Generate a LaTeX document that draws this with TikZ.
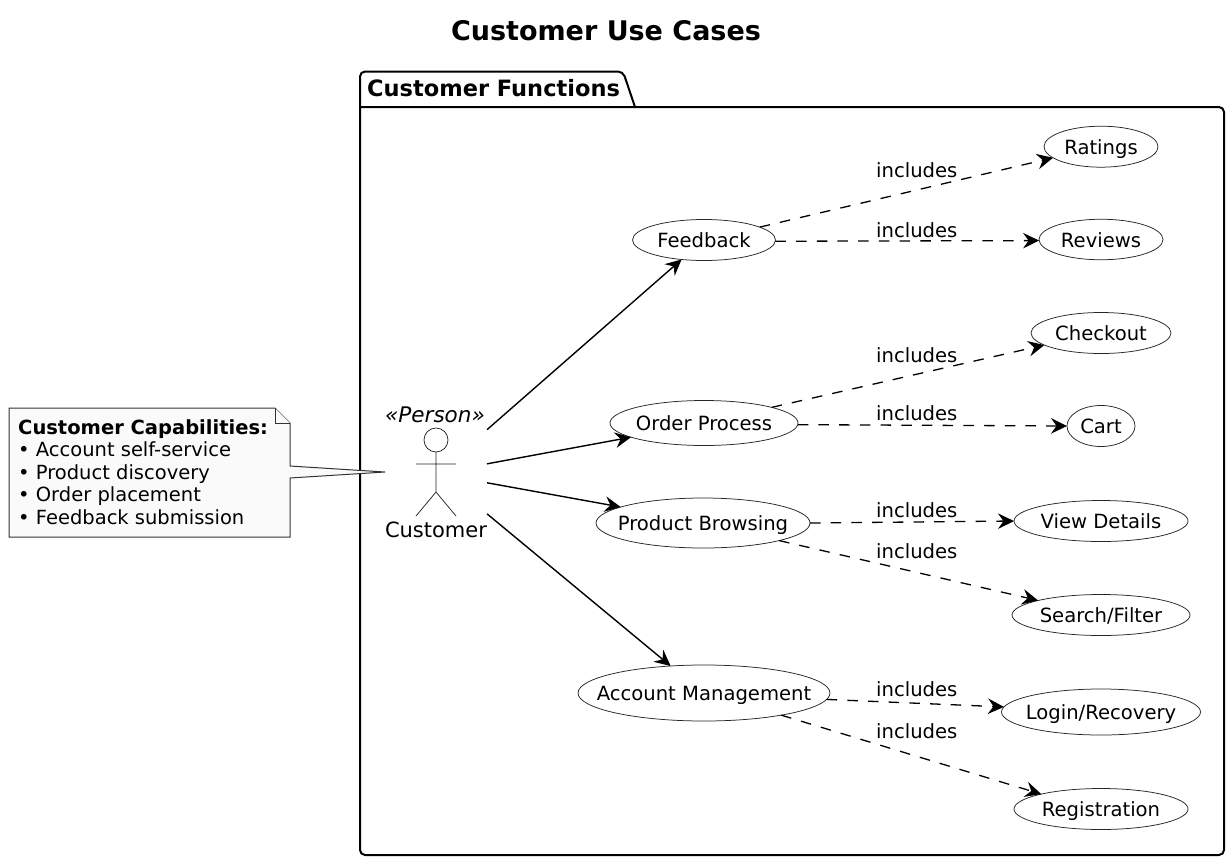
\documentclass[tikz,border=0pt]{standalone}
\usepackage{fontspec}
\setmainfont{DejaVu Sans}
\usetikzlibrary{arrows.meta,shapes.geometric}
\newcommand{\uctext}[1]{\makebox[0pt][c]{#1}}
\tikzset{
  x=1pt,y=-1pt,
  body/.style={font=\fontsize{19.6}{24}\selectfont},
  uc/.style={draw=black!85,ellipse,line width=0.75pt,inner sep=0pt,outer sep=0pt,fill=white,body,text height=19pt,text depth=4pt,anchor=center},
  headtip/.style={-{Stealth[length=16pt,width=15.5pt,inset=5.5pt]}},
  inc/.style={draw,line width=1.3pt,dash pattern=on 10.5pt off 10.2pt,headtip},
  assoc/.style={draw,line width=1.4pt,headtip},
  inclabel/.style={body,anchor=west,inner sep=0pt},
  actorline/.style={draw=black!85,line width=0.75pt},
  pkg/.style={line width=2pt,line join=round},
  notebox/.style={draw=black!80,line width=1pt,fill=black!2},
}
\begin{document}
\begin{tikzpicture}
\useasboundingbox (0,0) rectangle (1232,863);
\node[font=\bfseries\fontsize{27}{30}\selectfont] (title) at (606,31) {Customer Use Cases};
% package
\draw[pkg,rounded corners=5pt] (360,107) -- (360,71.5) -- (623,71.5) -- (635,107);
\draw[pkg,rounded corners=5pt] (360,107) -- (360,855) -- (1224,855) -- (1224,107) -- (635,107) -- (360,107);
\node[font=\bfseries\fontsize{22.5}{26}\selectfont,anchor=west,inner sep=0pt] (pkgname) at (367,88) {Customer Functions};
% use cases
\node[uc,minimum width=143pt,minimum height=41pt] (feedback) at (704,240) {\uctext{Feedback}};
\node[uc,minimum width=188pt,minimum height=45pt] (order) at (704,423) {\uctext{Order Process}};
\node[uc,minimum width=214pt,minimum height=50pt] (browse) at (703,523) {\uctext{Product Browsing}};
\node[uc,minimum width=252pt,minimum height=56pt] (account) at (704,693) {\uctext{Account Management}};
\node[uc,minimum width=114pt,minimum height=41pt] (ratings) at (1101,146.7) {\uctext{Ratings}};
\node[uc,minimum width=124pt,minimum height=40.5pt] (reviews) at (1101,239.5) {\uctext{Reviews}};
\node[uc,minimum width=140pt,minimum height=41pt] (checkout) at (1101,333) {\uctext{Checkout}};
\node[uc,minimum width=68pt,minimum height=41pt] (cart) at (1101,426) {\uctext{Cart}};
\node[uc,minimum width=174pt,minimum height=41pt] (details) at (1101,521) {\uctext{View Details}};
\node[uc,minimum width=178pt,minimum height=41pt] (search) at (1101,615) {\uctext{Search/Filter}};
\node[uc,minimum width=199pt,minimum height=46pt] (login) at (1101,712) {\uctext{Login/Recovery}};
\node[uc,minimum width=174pt,minimum height=41pt] (registration) at (1101,809) {\uctext{Registration}};
% actor
\node[minimum width=102pt,minimum height=140pt,inner sep=0pt,outer sep=0pt] (actor) at (436,471) {};
\coordinate (head) at (436,440);
\draw[actorline] (head) circle (12pt);
\draw[actorline] (436,452) -- (436,492) (416,464) -- (456,464) (416,516) -- (436,492) -- (456,516);
\node[font=\itshape\fontsize{21.5}{24}\selectfont,inner sep=0pt] (stereo) at (435,415) {«Person»};
\node[font=\fontsize{21}{26}\selectfont,inner sep=0pt] (custlabel) at (436,530) {Customer};
% associations
\draw[assoc] (actor.39.5) -- (feedback.221);
\draw[assoc] (actor.8.9) -- (order.191);
\draw[assoc] (actor.-13.2) -- (browse.169);
\draw[assoc] (actor.-40.1) -- (account.141);
% includes
\draw[inc] (feedback.13) -- (ratings.193.4);
\draw[inc] (feedback.-1.2) -- (reviews.181.8);
\draw[inc] (order.13.2) -- (checkout.192);
\draw[inc] (order.-1) -- (cart.180);
\draw[inc] (browse.0) -- (details.180);
\draw[inc] (browse.-13.3) -- (search.167);
\draw[inc] (account.-3.3) -- (login.177.7);
\draw[inc] (account.-16.8) -- (registration.166.2);
\node[inclabel] (l1) at (876,170) {includes};
\node[inclabel] (l2) at (876,230) {includes};
\node[inclabel] (l3) at (876,355) {includes};
\node[inclabel] (l4) at (876,413) {includes};
\node[inclabel] (l5) at (876,510) {includes};
\node[inclabel] (l6) at (876,551) {includes};
\node[inclabel] (l7) at (876,689) {includes};
\node[inclabel] (l8) at (876,731) {includes};
% note
\draw[notebox] (9,408) -- (275,408) -- (290,423) -- (290,466) -- (385,472) -- (290,478) -- (290,537) -- (9,537) -- cycle;
\draw[notebox] (275,408) -- (275,423) -- (290,423);
\node[anchor=north west,inner sep=0pt,align=left,font=\fontsize{19.5}{22.6}\selectfont] (note) at (18,419) {\textbf{Customer Capabilities:}\\• Account self-service\\• Product discovery\\• Order placement\\• Feedback submission};
\end{tikzpicture}
\end{document}
